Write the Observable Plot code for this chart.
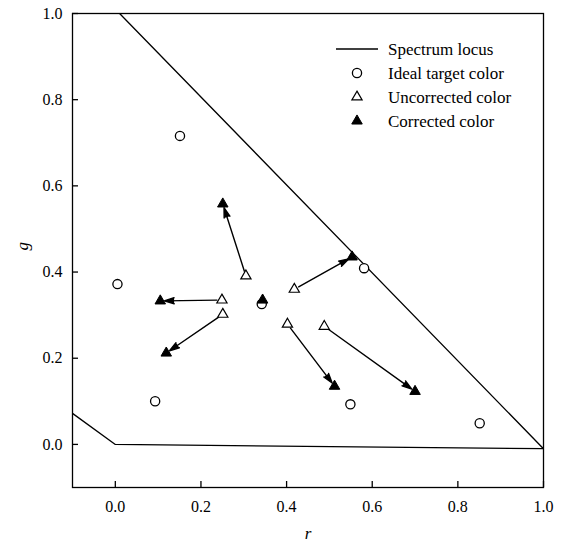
<!DOCTYPE html>
<html>
<head>
<meta charset="utf-8">
<script src="https://cdn.jsdelivr.net/npm/d3@7"></script>
<script src="https://cdn.jsdelivr.net/npm/@observablehq/plot@0.6"></script>
<style>
  html, body { margin: 0; padding: 0; background: #fff; }
  #wrap { position: relative; width: 563px; height: 547px; font-family: "Liberation Serif", "Times New Roman", Times, "DejaVu Serif", serif; }
  #wrap svg, #wrap svg text { font-family: "Liberation Serif", "Times New Roman", Times, "DejaVu Serif", serif !important; }
  #legend { position: absolute; left: 0; top: 0; pointer-events: none; }
</style>
</head>
<body>
<div id="wrap"></div>
<script>
// Tick values
const xTicks = [0.0, 0.2, 0.4, 0.6, 0.8, 1.0];
const yTicks = [0.0, 0.2, 0.4, 0.6, 0.8, 1.0];

// Spectrum locus (simplified outline)
const locusR = [-0.1, 0.0, 1.0, 0.01];
const locusG = [0.072, 0.0, -0.01, 1.0];

// Ideal target colours
const targetR = [0.151, 0.005, 0.093, 0.342, 0.581, 0.549, 0.851];
const targetG = [0.716, 0.372, 0.100, 0.326, 0.409, 0.093, 0.049];

// Uncorrected colours (paired with the first six corrected colours)
const uncR = [0.305, 0.249, 0.251, 0.418, 0.402, 0.488];
const uncG = [0.391, 0.335, 0.302, 0.360, 0.279, 0.274];

// Corrected colours
const corR = [0.251, 0.105, 0.119, 0.553, 0.512, 0.700, 0.344];
const corG = [0.558, 0.333, 0.212, 0.435, 0.135, 0.123, 0.335];

// Legend entries
const legendLabels = ["Spectrum locus", "Ideal target color", "Uncorrected color", "Corrected color"];

const FONT = '"Liberation Serif", "Times New Roman", Times, "DejaVu Serif", serif';

const W = 563, H = 547, ML = 72, MR = 20, MT = 13, MB = 60;
const TICK = 6;
const xDomain = [-0.1, 1.0];
const yDomain = [-0.1, 1.0];
// tick length converted from pixels to data units
const tickLenX = TICK * (xDomain[1] - xDomain[0]) / (W - ML - MR);
const tickLenY = TICK * (yDomain[1] - yDomain[0]) / (H - MT - MB);

const locus = locusR.map((r, i) => ({r, g: locusG[i]}));
const targets = targetR.map((r, i) => ({r, g: targetG[i]}));
const uncorrected = uncR.map((r, i) => ({r, g: uncG[i]}));
const corrected = corR.map((r, i) => ({r, g: corG[i]}));
const arrows = uncR.map((r, i) => ({r1: r, g1: uncG[i], r2: corR[i], g2: corG[i]}));

const fmt = d3.format(".1f");

const chart = Plot.plot({
  width: W,
  height: H,
  marginLeft: ML,
  marginRight: MR,
  marginTop: MT,
  marginBottom: MB,
  style: {fontFamily: FONT, fontSize: "16px", color: "black", background: "white"},
  x: {domain: xDomain},
  y: {domain: yDomain},
  marks: [
    Plot.frame({stroke: "black", strokeWidth: 1.3}),
    // inward tick marks
    Plot.ruleX(xTicks, {x: d => d, y1: yDomain[0], y2: yDomain[0] + tickLenY, stroke: "black", strokeWidth: 1.3}),
    Plot.ruleY(yTicks, {y: d => d, x1: xDomain[0], x2: xDomain[0] + tickLenX, stroke: "black", strokeWidth: 1.3}),
    Plot.axisX(xTicks, {tickSize: 0, tickPadding: 13, tickFormat: fmt, label: null, fill: "black", fontFamily: FONT}),
    Plot.axisY(yTicks, {tickSize: 0, tickPadding: 10, tickFormat: fmt, label: null, fill: "black", fontFamily: FONT}),
    Plot.text(["r"], {frameAnchor: "bottom", dy: 51, fontStyle: "italic", fontSize: 17, fill: "black", fontFamily: FONT}),
    Plot.text(["g"], {frameAnchor: "left", dx: -50, rotate: -90, fontStyle: "italic", fontSize: 17, fill: "black", fontFamily: FONT}),
    Plot.line(locus, {x: "r", y: "g", stroke: "black", strokeWidth: 1.3, clip: true}),
    Plot.arrow(arrows, {x1: "r1", y1: "g1", x2: "r2", y2: "g2", stroke: "black", fill: "black", strokeWidth: 1.4, headLength: 11, headAngle: 34, insetStart: 5, insetEnd: 4}),
    Plot.dot(targets, {x: "r", y: "g", r: 4.6, stroke: "black", strokeWidth: 1.3, fill: "white"}),
    Plot.dot(uncorrected, {x: "r", y: "g", symbol: "triangle", r: 3.8, stroke: "black", strokeWidth: 1.2, fill: "white"}),
    Plot.dot(corrected, {x: "r", y: "g", symbol: "triangle", r: 3.9, stroke: "black", strokeWidth: 1, fill: "black"})
  ]
});

const wrap = document.getElementById("wrap");
wrap.appendChild(chart);

// Legend overlay (inside the plot, top right)
const ns = "http://www.w3.org/2000/svg";
const lg = document.createElementNS(ns, "svg");
lg.setAttribute("id", "legend");
lg.setAttribute("width", W);
lg.setAttribute("height", H);
const rowY = [49, 73, 97, 121];
const symX = 357;
const textX = 388;
function el(name, attrs) {
  const e = document.createElementNS(ns, name);
  for (const k in attrs) e.setAttribute(k, attrs[k]);
  lg.appendChild(e);
  return e;
}
el("line", {x1: 336, x2: 378, y1: rowY[0], y2: rowY[0], stroke: "black", "stroke-width": 1.3});
el("circle", {cx: symX, cy: rowY[1], r: 4.6, stroke: "black", "stroke-width": 1.3, fill: "white"});
el("path", {d: d3.symbol(d3.symbolTriangle, Math.PI * 3.8 * 3.8)(), transform: `translate(${symX},${rowY[2]})`, stroke: "black", "stroke-width": 1.2, fill: "white"});
el("path", {d: d3.symbol(d3.symbolTriangle, Math.PI * 3.9 * 3.9)(), transform: `translate(${symX},${rowY[3]})`, stroke: "black", "stroke-width": 1, fill: "black"});
legendLabels.forEach((t, i) => {
  const tx = el("text", {x: textX, y: rowY[i], "dominant-baseline": "central", "font-size": 17, fill: "black", "font-family": FONT});
  tx.textContent = t;
});
wrap.appendChild(lg);
</script>
</body>
</html>
